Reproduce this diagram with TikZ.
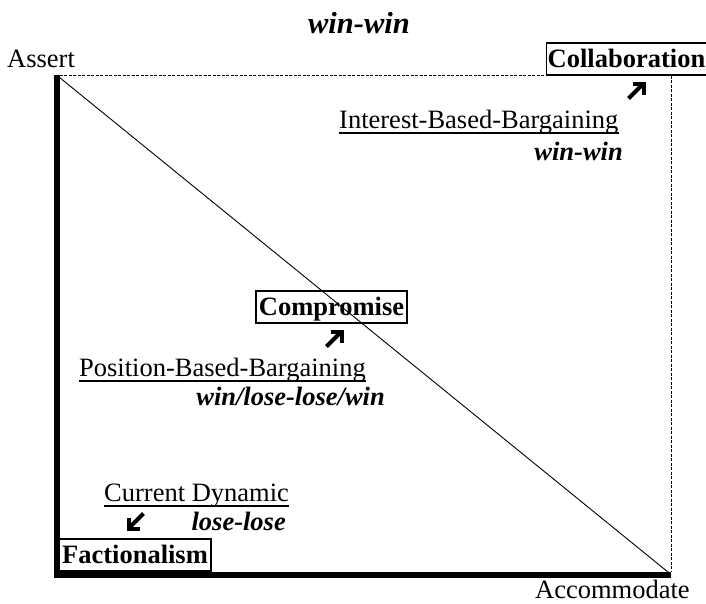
\documentclass[tikz,border=0pt]{standalone}
\usepackage{fontspec}
\setmainfont{Liberation Serif}
\tikzset{
  txt/.style={inner sep=0pt, font=\fontsize{26.5}{30}\selectfont},
  bitxt/.style={txt, font=\fontsize{26.5}{30}\selectfont\bfseries\itshape},
  framebox/.style={draw, line width=1.5pt, inner xsep=3pt, inner ysep=0pt,
    text height=24.5pt, text depth=7.5pt, font=\fontsize{26.5}{30}\selectfont\bfseries},
  dashedline/.style={line width=1pt, dash pattern=on 3pt off 1.5pt},
  thickaxis/.style={line width=6pt, line join=miter},
  arrowglyph/.style={line width=4pt, line join=miter, line cap=butt},
  uline/.style={line width=1.3pt}
}
\begin{document}
\begin{tikzpicture}[x=1pt,y=-1pt]
\useasboundingbox (0,0) rectangle (706,603);
% frame corners
\coordinate (TL) at (56.5,75);
\coordinate (BL) at (56.5,574.5);
\coordinate (BR) at (671,574.5);
\coordinate (TR) at (671,75);
\coordinate (TLd) at (59.5,75);
\coordinate (BRd) at (671,571.5);
\draw[dashedline] (TLd) -- (TR) -- (BRd);
\draw[line width=0.9pt] (TL) -- (BR);
\draw[thickaxis] (TL) -- (BL) -- (BR);
% title and axis labels
\node[bitxt, font=\fontsize{30.5}{34}\selectfont\bfseries\itshape, anchor=base] (title) at (359,33) {win-win};
\node[txt, anchor=base west] (assert) at (7,67) {Assert};
\node[txt, anchor=base west] (accom) at (535,598) {Accommodate};
% boxes
\node[framebox, inner xsep=1.2pt, anchor=base] (collab) at (626.5,67.5) {Collaboration};
\node[framebox, anchor=base] (comp) at (331.5,315.5) {Compromise};
\node[framebox, anchor=base] (fact) at (135,563.5) {Factionalism};
% labels
\node[txt, anchor=base west] (ibb) at (339,128) {Interest-Based-Bargaining};
\draw[uline] ([yshift=-5pt]ibb.base west) -- ([yshift=-5pt]ibb.base east);
\node[bitxt, anchor=base east] (ww) at (623,160) {win-win};
\node[txt, anchor=base west] (pbb) at (79,376.5) {Position-Based-Bargaining};
\draw[uline] ([yshift=-4.5pt]pbb.base west) -- ([yshift=-4.5pt]pbb.base east);
\node[bitxt, anchor=base east] (wl) at (385,405) {win/lose-lose/win};
\node[txt, anchor=base west] (cd) at (104,501.5) {Current Dynamic};
\draw[uline] ([yshift=-4.5pt]cd.base west) -- ([yshift=-4.5pt]cd.base east);
\node[bitxt, anchor=base east] (ll) at (286,530) {lose-lose};
% arrow glyphs (corner points)
\coordinate (a1) at (643.5,83.5);
\coordinate (a2) at (341.5,331.5);
\coordinate (a3) at (128.5,528.5);
\draw[arrowglyph] ([xshift=-11pt]a1) -- (a1) -- ([yshift=-11pt]a1);
\draw[arrowglyph] (a1) -- ([xshift=-15pt,yshift=-15pt]a1);
\draw[arrowglyph] ([xshift=-11pt]a2) -- (a2) -- ([yshift=-11pt]a2);
\draw[arrowglyph] (a2) -- ([xshift=-15pt,yshift=-15pt]a2);
\draw[arrowglyph] ([xshift=11pt]a3) -- (a3) -- ([yshift=11pt]a3);
\draw[arrowglyph] (a3) -- ([xshift=15pt,yshift=15pt]a3);
\end{tikzpicture}
\end{document}
